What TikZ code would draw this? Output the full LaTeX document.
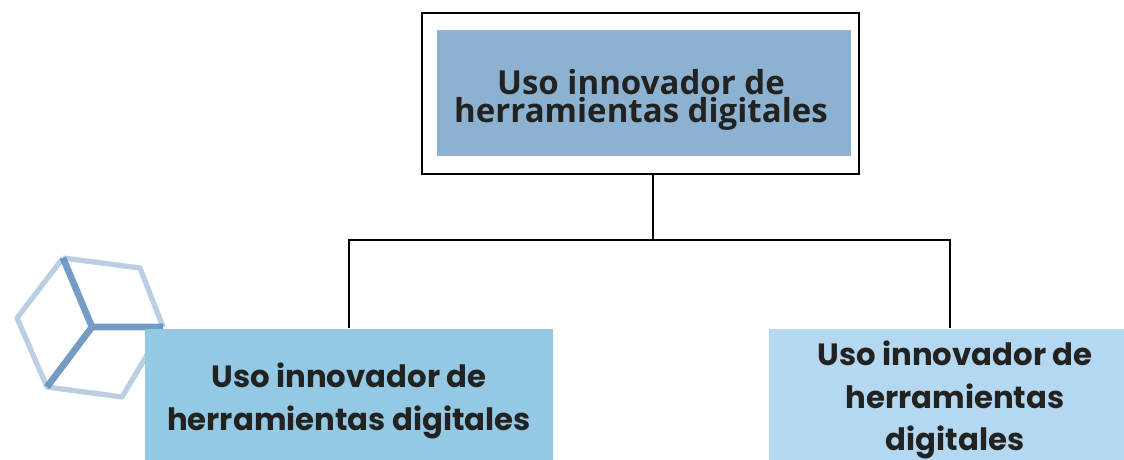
\documentclass[tikz,border=0pt]{standalone}
\usepackage{fontspec}
\setmainfont{Open Sans}
\newfontfamily\boxfont{Poppins}
\usetikzlibrary{positioning}
\definecolor{topblue}{HTML}{8DB2D1}
\definecolor{leftblue}{HTML}{93C9E4}
\definecolor{rightblue}{HTML}{B4D8F1}
\definecolor{inkblack}{HTML}{222221}
\definecolor{cubeblue}{HTML}{5C8BBB}
\tikzset{
  frame/.style={draw=black, line width=0.75pt, minimum width=4.37cm, minimum height=1.61cm},
  title/.style={fill=topblue, minimum width=4.14cm, minimum height=1.26cm},
  titletext/.style={align=center, text=inkblack, font=\fontsize{9.4}{8}\selectfont\bfseries},
  branch/.style={minimum height=1.31cm},
  branchtext/.style={align=center, inner sep=0pt, text=inkblack, font=\boxfont\fontsize{8.75}{12}\selectfont\bfseries},
  link/.style={draw=black, line width=0.5pt}
}
\begin{document}
\begin{tikzpicture}
\useasboundingbox (0,0) rectangle (11.24,4.6);

% Faded cube behind the left box
\coordinate (c0) at (0.92,1.33);
\coordinate (c1) at (0.63,2.02);
\coordinate (c2) at (1.40,1.92);
\coordinate (c3) at (1.63,1.33);
\coordinate (c4) at (0.17,1.42);
\coordinate (c5) at (0.47,0.73);
\coordinate (c6) at (1.22,0.63);
\coordinate (c7) at (1.50,1.10);
\draw[cubeblue, opacity=0.42, line width=1.5pt, line join=round] (c1) -- (c2) -- (c3) (c1) -- (c4) -- (c5) -- (c6) -- (c7);
\draw[cubeblue, opacity=0.85, line width=1.9pt] (c1) -- (c0) (c5) -- (c0) (c3) -- (c0);

% Boxes
\node[frame] (outer) at (6.405,3.665) {};
\node[title] (main) at (6.44,3.67) {};
\node[titletext] (maintext) at (6.41,3.605) {Uso innovador de\\herramientas digitales};
\node[branch, fill=leftblue, minimum width=4.08cm] (left) at (3.49,0.655) {};
\node[branchtext] (lefttext) at (3.49,0.59) {Uso innovador de\\herramientas digitales};
\node[branch, fill=rightblue, minimum width=3.55cm] (right) at (9.465,0.655) {};
\node[branchtext] (righttext) at (9.55,0.60) {Uso innovador de\\herramientas\\digitales};

% Connectors
\coordinate (stem) at (6.53,2.2);
\coordinate (rightdrop) at (9.50,2.2);
\draw[link] (outer.south -| stem) -- (stem);
\draw[link] (left.north) |- (stem) -- (rightdrop) -- (rightdrop |- right.north);

\end{tikzpicture}
\end{document}
